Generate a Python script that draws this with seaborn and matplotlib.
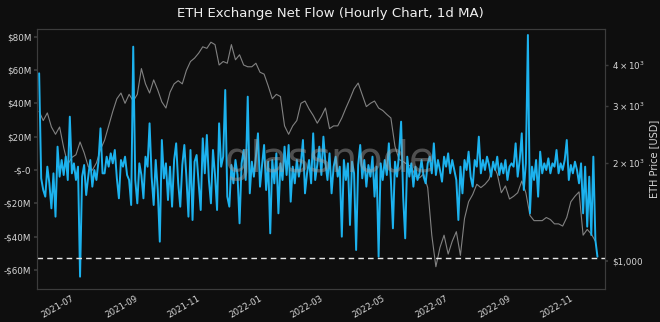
import numpy as np
import pandas as pd
import matplotlib
matplotlib.use("Agg")
import matplotlib.pyplot as plt
import seaborn as sns
from matplotlib.ticker import FixedLocator, FixedFormatter

# ---------------- data ----------------
flow_start = "2021-05-26"
flow_step_days = 2
net_flow_musd = [
    58, -5, -12, -16, 2, -8, -23, -2, -28, 14,
    -4, 6, -3, 8, -6, 32, -2, 4, -6, 2,
    -64, -4, 3, -15, -4, 6, -10, 0, -6, 5,
    25, -2, -2, 8, 2, 10, 4, 12, -5, -17,
    6, 2, 8, -3, -6, -21,
    74, -6, -20, 4, -3, -17, 8, 2, 28, -4,
    -21, 6, -12, -43, 18, -5, 4, -18, 2, -22,
    6, 16, -8, -22, 3, 15, -4, -28, 12, -30,
    5, 9, -8, -24, 19, -2, 21, -6, -20, 12,
    -3, -24, 28, 2, 8, 48, -16,
    -22, 3, -8, 6, -3, -32, 4, 12, -6, 44,
    -14, 5, -4, 8, 22, -10, 3, 15, -12, 5,
    -38, 6, -8, 10, -26, 4, -6, 14, -3, 15,
    -19, 2, -8, 6, -4, 4, 18, -14, -2, 6,
    -8, 22, -6, 3, 14, -3, 20,
    4, -6, 10, -14, 2, 8, -4, 2, -40, 6,
    -6, 4, -33, 5, -2, -48, 3, 15, -5, 6,
    -10, 3, -4, 8, -16, 2, -52, 4, -6, 6,
    -3, 16, -6, -35, 5, -4, 10, 29, -16, -41,
    8, -4, 4, -10, 2, -6,
    -2, 6, -4, -8, 4, 8, -2, 16, -3, 6,
    0, -7, 8, 2, 10, -2, 6, 0, -6, -30,
    2, -14, 6, 0, 11, -4, -10, 6, 2, 20,
    -2, 6, 0, 8, 3, -4, 5, 0, 8, -3,
    4, -2, 6, -6, 2, 4,
    2, 16, -4, 6, 22, -12, 4, 81, -26, 2,
    -6, 6, -16, 11, -2, 4, 0, 7, -2, 4,
    2, 12, -2, 4, 0, 6, 18, -6, 3, -2,
    5, 0, -8, 4, -26, 2, -34, -4, -39, 8,
    -42, -52,
]

price_start = "2021-05-26"
price_step_days = 4
eth_price_usd = [
    2880, 2700, 2850, 2580, 2450, 2580, 2230, 1980, 2080, 2120,
    2320, 2150, 1950, 1900, 2000, 2200, 2350, 2600, 2880, 3150,
    3280, 3050, 3250, 3100, 3250, 3900, 3500, 3280, 3600, 3350,
    3080, 2950, 3300, 3500, 3580, 3500, 3850, 4100, 4200, 4350,
    4550, 4500, 4700, 4620, 4000, 4100, 4050, 4620, 4150, 4300,
    4000, 3950, 3950, 4050, 3800, 3750, 3450, 3150, 3250, 3200,
    2600, 2450, 2600, 2700, 3050, 3100, 2930, 2800, 2650, 2780,
    2950, 2550, 2600, 2600, 2750, 2950, 3150, 3380, 3520, 3240,
    2980, 3050, 3100, 2950, 2900, 2820, 2750, 2250, 2050, 2020,
    1980, 1950, 1820, 1800, 1850, 1680, 1200, 960, 1100, 1200,
    1050, 1150, 1230, 1040, 1350, 1520, 1600, 1720, 1680, 1720,
    1780, 1980, 1850, 1620, 1700, 1550, 1580, 1620, 1760, 1620,
    1380, 1330, 1330, 1330, 1360, 1340, 1300, 1300, 1280, 1360,
    1520, 1580, 1630, 1200, 1250, 1210, 1150,
]

flow_ticks = [-60, -40, -20, 0, 20, 40, 60, 80]
flow_tick_labels = ["-$60M", "-$40M", "-$20M", "-$-0", "$20M", "$40M", "$60M", "$80M"]
price_major_ticks = [1000]
price_major_labels = [r"\$1,000"]
price_minor_ticks = [2000, 3000, 4000]
price_minor_labels = [r"$\mathdefault{2\times10^{3}}$",
                      r"$\mathdefault{3\times10^{3}}$",
                      r"$\mathdefault{4\times10^{3}}$"]
xtick_dates = ["2021-07-01", "2021-09-01", "2021-11-01", "2022-01-01", "2022-03-01",
               "2022-05-01", "2022-07-01", "2022-09-01", "2022-11-01"]
xtick_labels = ["2021-07", "2021-09", "2021-11", "2022-01", "2022-03",
                "2022-05", "2022-07", "2022-09", "2022-11"]
threshold_musd = -53

title = "ETH Exchange Net Flow (Hourly Chart, 1d MA)"
price_label = "ETH Price [USD]"

# ---------------- frames ----------------
flow_df = pd.DataFrame({
    "date": pd.date_range(flow_start, periods=len(net_flow_musd), freq=f"{flow_step_days}D"),
    "flow": net_flow_musd,
})
price_df = pd.DataFrame({
    "date": pd.date_range(price_start, periods=len(eth_price_usd), freq=f"{price_step_days}D"),
    "price": eth_price_usd,
})

# ---------------- style ----------------
bg = "#0e0e0e"
txt = "#d6d6d6"
spine_c = "#3c3c3c"
blue = "#1cb2ee"
grey = "#8e8e8e"

sns.set_theme(style="dark", rc={
    "figure.facecolor": bg, "axes.facecolor": bg, "savefig.facecolor": bg,
    "axes.edgecolor": spine_c, "text.color": txt, "xtick.color": txt,
    "ytick.color": txt, "axes.labelcolor": txt,
})
plt.rcParams["font.family"] = ["DejaVu Sans"]

fig = plt.figure(figsize=(6.6, 3.22), dpi=100)
L, R, T, B = 37, 605, 29, 289
ax = fig.add_axes([L / 660, 1 - B / 322, (R - L) / 660, (B - T) / 322])
ax2 = ax.twinx()
ax.set_zorder(ax2.get_zorder() + 1)
ax.patch.set_visible(False)
ax2.set_facecolor(bg)

sns.lineplot(data=price_df, x="date", y="price", ax=ax2, color=grey, lw=0.8, alpha=0.9)
sns.lineplot(data=flow_df, x="date", y="flow", ax=ax, color=blue, lw=1.4)
ax.axhline(threshold_musd, color="#e8e8e8", lw=1.0, ls=(0, (4, 3)))

x0 = pd.Timestamp("2021-07-01") - pd.Timedelta(days=38.1)
x1 = pd.Timestamp("2021-07-01") + pd.Timedelta(days=517.4)
ax.set_xlim(x0, x1)
ax.set_ylim(-71.4, 84.6)
ax2.set_yscale("log")
ax2.set_ylim(820, 5160)

ax.set_yticks(flow_ticks)
ax.set_yticklabels(flow_tick_labels)
ax.set_xticks(pd.to_datetime(xtick_dates))
ax.set_xticklabels(xtick_labels, rotation=30, ha="right")
ax.tick_params(axis="y", labelsize=6.3, length=2, color=spine_c, pad=2)
ax.tick_params(axis="x", labelsize=6.2, length=2, color=spine_c, pad=1.5)
ax.set_xlabel("")
ax.set_ylabel("")

ax2.yaxis.set_major_locator(FixedLocator(price_major_ticks))
ax2.yaxis.set_major_formatter(FixedFormatter(price_major_labels))
ax2.yaxis.set_minor_locator(FixedLocator(price_minor_ticks))
ax2.yaxis.set_minor_formatter(FixedFormatter(price_minor_labels))
ax2.tick_params(axis="y", which="both", labelsize=6.3, length=2, color=spine_c, pad=3)
ax2.set_ylabel(price_label, fontsize=7, color=txt, labelpad=3)
ax2.set_xlabel("")
ax2.grid(False)
ax.grid(False)

for a in (ax, ax2):
    for s in a.spines.values():
        s.set_color(spine_c)
        s.set_linewidth(0.8)

fig.text(0.5, 1 - 14 / 322, title, ha="center", va="center", fontsize=9.5, color="#f0f0f0")
fig.text(0.5, 1 - 160 / 322, "glassnode", ha="center", va="center", fontsize=30,
         color="#a0a0a0", alpha=0.45, zorder=10)

fig.savefig("out.png", dpi=100, facecolor=bg)
